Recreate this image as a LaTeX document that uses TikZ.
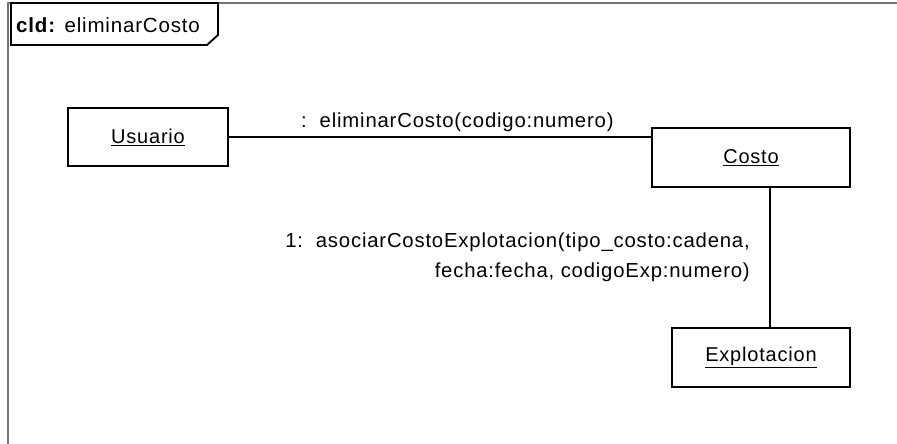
\documentclass[tikz,border=0pt]{standalone}
\usepackage{fontspec}
\setmainfont{Liberation Sans}[LetterSpace=4]
\begin{document}
\begin{tikzpicture}[x=1pt,y=-1pt,
  obj/.style={draw=black,line width=1.8pt,fill=white,font=\fontsize{20}{24}\selectfont,inner sep=0pt},
  conn/.style={draw=black,line width=1.4pt},
  msg/.style={font=\fontsize{20.3}{30}\selectfont,inner sep=0pt},
  framel/.style={draw=black!55,line width=1.8pt}]
\useasboundingbox (0,0) rectangle (897,444);
\fill[white] (0,0) rectangle (897,444);
% frame
\draw[framel] (8,444) -- (8,3) -- (897,3);
\draw[line width=1.8pt] (11,3) -- (218,3) -- (218,35) -- (207,45) -- (11,45) -- cycle;
\node[anchor=west,inner sep=0pt,font=\fontsize{20.5}{24}\selectfont] (tab) at (16,25) {\textbf{cld:} eliminarCosto};
% objects
\node[obj,minimum width=160pt,minimum height=58pt] (usuario) at (148,137) {\underline{Usuario}};
\node[obj,minimum width=198pt,minimum height=59pt] (costo) at (751,157.5) {\underline{Costo}};
\node[obj,minimum width=178pt,minimum height=59pt] (explot) at (761,357.5) {\underline{Explotacion}};
% connectors
\coordinate (vx) at (770,0);
\draw[conn] (usuario.east) -- (usuario.east -| costo.west);
\draw[conn] (costo.south -| vx) -- (explot.north -| vx);
% messages
\node[msg,anchor=west] (m0) at (301,122) {:\ \ eliminarCosto(codigo:numero)};
\node[msg,anchor=east,align=right] (m1) at (750,257) {1:\ \ asociarCostoExplotacion(tipo\_costo:cadena,\\ fecha:fecha, codigoExp:numero)};
\end{tikzpicture}
\end{document}
